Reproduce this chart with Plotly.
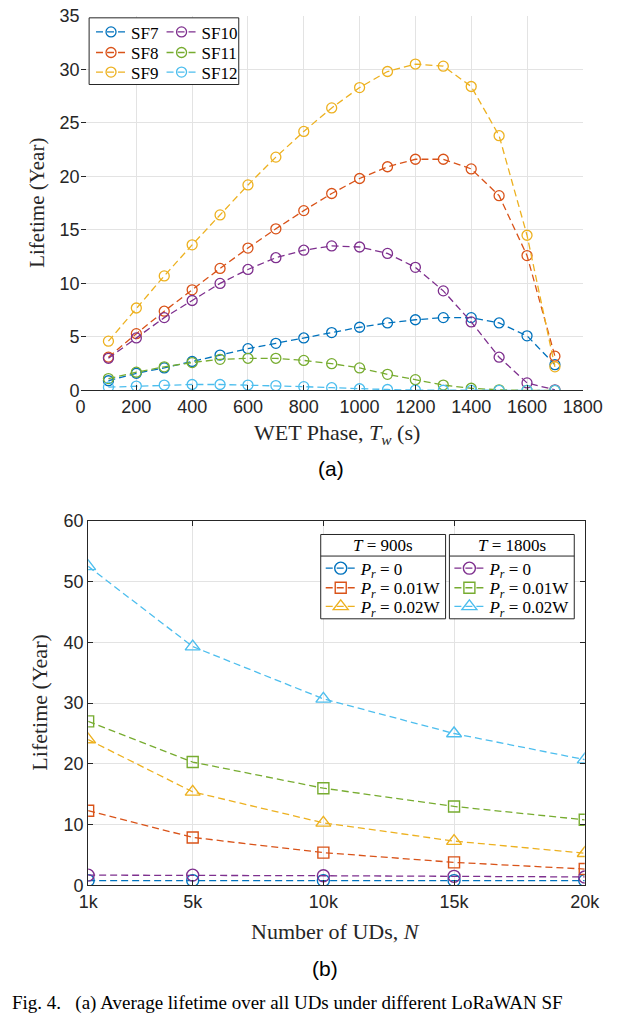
import plotly.graph_objects as go

W, H = 640, 1018

# ---------------- data: (a) ----------------
tw = [100, 200, 300, 400, 500, 600, 700, 800, 900, 1000, 1100, 1200, 1300, 1400, 1500, 1600, 1700]
sf7 = [0.9, 1.6, 2.1, 2.7, 3.3, 3.9, 4.4, 4.9, 5.4, 5.9, 6.3, 6.6, 6.8, 6.8, 6.3, 5.1, 2.4]
sf8 = [3.1, 5.3, 7.4, 9.4, 11.4, 13.3, 15.1, 16.8, 18.4, 19.8, 20.9, 21.6, 21.6, 20.7, 18.2, 12.6, 3.2]
sf9 = [4.6, 7.7, 10.7, 13.6, 16.4, 19.2, 21.8, 24.2, 26.4, 28.3, 29.8, 30.5, 30.3, 28.4, 23.8, 14.5, 2.2]
sf10 = [3.0, 4.9, 6.8, 8.4, 10.0, 11.3, 12.4, 13.1, 13.5, 13.4, 12.8, 11.5, 9.3, 6.4, 3.1, 0.7, 0.05]
sf11 = [1.1, 1.7, 2.2, 2.6, 2.9, 3.0, 3.0, 2.8, 2.5, 2.1, 1.5, 1.0, 0.5, 0.2, 0.05, 0.0, 0.0]
sf12 = [0.3, 0.4, 0.5, 0.55, 0.55, 0.5, 0.45, 0.35, 0.25, 0.15, 0.08, 0.03, 0.01, 0.0, 0.0, 0.0, 0.0]
sf_names = ["SF7", "SF8", "SF9", "SF10", "SF11", "SF12"]
xa_ticks = [0, 200, 400, 600, 800, 1000, 1200, 1400, 1600, 1800]
ya_ticks = [0, 5, 10, 15, 20, 25, 30, 35]

# ---------------- data: (b) ----------------
n_uds = [1000, 5000, 10000, 15000, 20000]
n_tick_labels = ["1k", "5k", "10k", "15k", "20k"]
t900_p0 = [0.8, 0.8, 0.8, 0.8, 0.8]
t900_p001 = [12.3, 7.9, 5.4, 3.8, 2.7]
t900_p002 = [24.0, 15.4, 10.3, 7.3, 5.3]
t1800_p0 = [1.7, 1.7, 1.6, 1.5, 1.4]
t1800_p001 = [27.0, 20.3, 16.0, 13.0, 10.8]
t1800_p002 = [52.5, 39.3, 30.7, 25.0, 20.7]
pr_labels = ["<i>P<sub>r</sub></i> = 0", "<i>P<sub>r</sub></i> = 0.01W", "<i>P<sub>r</sub></i> = 0.02W"]
group_titles = ["<i>T</i> = 900s", "<i>T</i> = 1800s"]
yb_ticks = [0, 10, 20, 30, 40, 50, 60]

C = ["#0072BD", "#D95319", "#EDB120", "#7E2F8E", "#77AC30", "#4DBEEE"]
DASH = "7px,4px"
AX = "#262626"
GRID = "#e3e3e3"
TICKF = dict(family="Liberation Sans, Arial", size=18, color="#262626")
SERIF = "Liberation Serif, Times New Roman, serif"
LEG_FONT = 17
LEG_OFF = 5 + (max(LEG_FONT * 1.3, 16) + 3) / 2  # item centre below legend top


def px(x):
    return x / W


def py(y):
    return 1 - y / H


fig = go.Figure()

# legend slot positions (pixel): marker-left anchor x, row centre y
top_cols = [85, 159]
top_rows = [22, 43, 63]
bot_cols = [326, 461]
bot_rows = [569, 589, 608]

legends = {}
lid = 1


def new_legend(x, yc):
    global lid
    lid += 1
    key = f"legend{lid}"
    legends[key] = dict(x=px(x), y=py(yc - LEG_OFF), xanchor="left", yanchor="top",
                        bgcolor="rgba(0,0,0,0)", borderwidth=0, itemwidth=30, visible=True,
                        font=dict(family=SERIF, size=LEG_FONT, color="black"), itemclick=False)
    return key


# ---- panel (a) ----
sf_data = [sf7, sf8, sf9, sf10, sf11, sf12]
for i, (name, ys) in enumerate(zip(sf_names, sf_data)):
    key = new_legend(top_cols[i // 3], top_rows[i % 3])
    fig.add_trace(go.Scatter(
        x=tw, y=ys, name=name, mode="lines+markers", showlegend=True,
        line=dict(color=C[i], width=1.3, dash=DASH),
        marker=dict(symbol="circle-open", size=10, color=C[i], line=dict(width=1.3)),
        xaxis="x", yaxis="y", legend=key,
    ))

# ---- panel (b) ----
b_data = [t900_p0, t900_p001, t900_p002, t1800_p0, t1800_p001, t1800_p002]
b_sym = ["circle-open", "square-open", "triangle-up-open"] * 2
b_size = [12, 11, 13, 12, 11, 13]
for i, ys in enumerate(b_data):
    key = new_legend(bot_cols[i // 3], bot_rows[i % 3])
    fig.add_trace(go.Scatter(
        x=n_uds, y=ys, name=pr_labels[i % 3], mode="lines+markers", showlegend=True,
        line=dict(color=C[i], width=1.3, dash=DASH),
        marker=dict(symbol=b_sym[i], size=b_size[i], color=C[i], line=dict(width=1.4)),
        xaxis="x2", yaxis="y2", legend=key,
    ))

xa_dom = [px(74), px(601)]
ya_dom = [py(388), py(6)]
xb_dom = [px(82), px(603)]
yb_dom = [py(893), py(521)]

common = dict(showgrid=True, gridcolor=GRID, gridwidth=1, zeroline=False,
              ticks="inside", ticklen=5, tickcolor=AX, tickfont=TICKF,
              linecolor=AX, linewidth=1)

fig.update_layout(
    width=W, height=H, margin=dict(l=0, r=0, t=0, b=0),
    paper_bgcolor="white", plot_bgcolor="white", showlegend=True,
    xaxis=dict(domain=xa_dom, range=[0, 1800], tickvals=xa_ticks, anchor="y",
               showline=True, mirror=False, **common),
    yaxis=dict(domain=ya_dom, range=[0, 35], tickvals=ya_ticks, anchor="x",
               showline=False, **common),
    xaxis3=dict(domain=xa_dom, range=[0, 1800], tickvals=xa_ticks, overlaying="x", side="top",
                anchor="y", showticklabels=False, showgrid=False, zeroline=False, showline=False,
                ticks="inside", ticklen=5, tickcolor=AX),
    yaxis3=dict(domain=ya_dom, range=[0, 35], tickvals=ya_ticks, overlaying="y", side="right",
                anchor="x", showticklabels=False, showgrid=False, zeroline=False, showline=True,
                linecolor=AX, linewidth=1, ticks="inside", ticklen=5, tickcolor=AX),
    xaxis2=dict(domain=xb_dom, range=[1000, 20000], tickvals=n_uds, ticktext=n_tick_labels,
                anchor="y2", showline=True, mirror="ticks", **common),
    yaxis2=dict(domain=yb_dom, range=[0, 60], tickvals=yb_ticks, anchor="x2",
                showline=True, mirror="ticks", **common),
    **legends,
)

shapes = [
    dict(type="rect", xref="paper", yref="paper", x0=px(83), x1=px(240), y0=py(76), y1=py(8),
         fillcolor="white", line=dict(color=AX, width=1), layer="above"),
    dict(type="rect", xref="paper", yref="paper", x0=px(326), x1=px(457), y0=py(621), y1=py(535),
         fillcolor="white", line=dict(color=AX, width=1), layer="above"),
    dict(type="rect", xref="paper", yref="paper", x0=px(461), x1=px(592), y0=py(621), y1=py(535),
         fillcolor="white", line=dict(color=AX, width=1), layer="above"),
    dict(type="line", xref="paper", yref="paper", x0=px(326), x1=px(457), y0=py(557), y1=py(557),
         line=dict(color=AX, width=1), layer="above"),
    dict(type="line", xref="paper", yref="paper", x0=px(461), x1=px(592), y0=py(557), y1=py(557),
         line=dict(color=AX, width=1), layer="above"),
]
fig.update_layout(shapes=shapes)

ann = [
    dict(text="WET Phase, <i>T<sub>w</sub></i> (s)", x=px(343), y=py(432), font=dict(family=SERIF, size=22, color=AX)),
    dict(text="Lifetime (Year)", x=px(28), y=py(197), textangle=-90, font=dict(family=SERIF, size=21, color=AX)),
    dict(text="(a)", x=px(337), y=py(468), font=dict(family="Liberation Sans, Arial", size=21, color="black")),
    dict(text="Number of UDs, <i>N</i>", x=px(342), y=py(940), font=dict(family=SERIF, size=22, color=AX)),
    dict(text="Lifetime (Year)", x=px(31), y=py(707), textangle=-90, font=dict(family=SERIF, size=22, color=AX)),
    dict(text="(b)", x=px(330), y=py(978), font=dict(family="Liberation Sans, Arial", size=21, color="black")),
    dict(text=group_titles[0], x=px(391.5), y=py(546), font=dict(family=SERIF, size=17, color="black")),
    dict(text=group_titles[1], x=px(526.5), y=py(546), font=dict(family=SERIF, size=17, color="black")),
    dict(text="Fig. 4.   (a) Average lifetime over all UDs under different LoRaWAN SF",
         x=px(0), y=py(1000), xanchor="left", yanchor="top", font=dict(family=SERIF, size=19, color="black")),
]
for a in ann:
    a.setdefault("xanchor", "center")
    a.setdefault("yanchor", "middle")
    a.update(xref="paper", yref="paper", showarrow=False)
fig.update_layout(annotations=ann)

fig.write_html("out.html", config={"displayModeBar": False},
               post_script="document.body.style.margin='0';document.body.style.overflow='hidden';")
